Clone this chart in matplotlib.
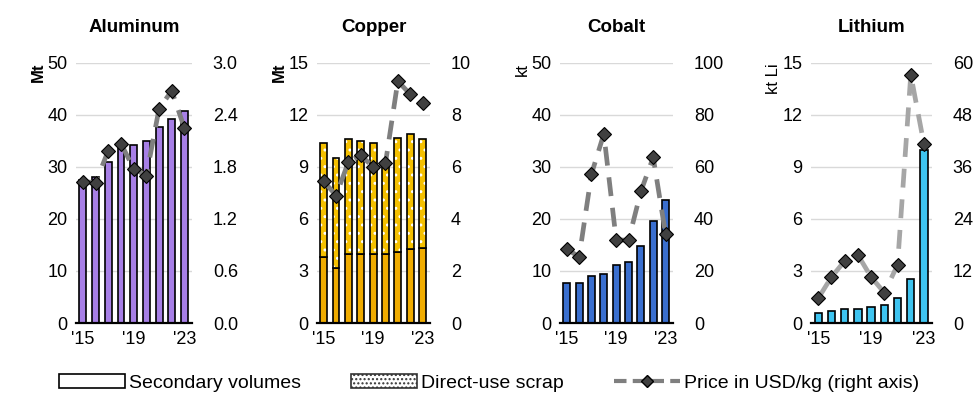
import numpy as np
import matplotlib.pyplot as plt
from matplotlib.lines import Line2D
from matplotlib.patches import Patch

plt.rcParams['font.family'] = ['Liberation Sans', 'DejaVu Sans']

years = ["'15", "", "", "", "'19", "", "", "", "'23"]

# secondary volumes (left axis)
alu_sec = [27.5, 28.0, 31.0, 34.5, 34.2, 35.0, 37.7, 39.2, 40.7]
cu_sec = [3.8, 3.2, 4.0, 4.0, 4.0, 4.0, 4.1, 4.25, 4.35]
cu_total = [10.4, 9.5, 10.6, 10.5, 10.4, 9.3, 10.7, 10.9, 10.6]
co_sec = [7.6, 7.6, 9.1, 9.5, 11.1, 11.7, 14.9, 19.6, 23.7]
li_sec = [0.57, 0.67, 0.8, 0.8, 0.9, 1.03, 1.47, 2.52, 9.98]

# prices (right axis)
alu_price = [1.63, 1.62, 1.99, 2.07, 1.78, 1.70, 2.47, 2.68, 2.25]
cu_price = [5.45, 4.9, 6.2, 6.45, 6.0, 6.15, 9.3, 8.8, 8.45]
co_price = [28.5, 25.4, 57.3, 72.7, 32.0, 31.8, 50.6, 63.7, 34.2]
li_price = [5.7, 10.6, 14.3, 15.7, 10.6, 7.0, 13.4, 57.3, 41.2]

cu_direct = [t - s for t, s in zip(cu_total, cu_sec)]

fig = plt.figure(figsize=(9.78, 4.01), dpi=100)

panels = [
    ('Aluminum', 'Mt', alu_sec, None, alu_price, '#a77fe6', (0, 50, 10), (0, 3.0, 0.6), '%.1f', '#7f7f7f', 0.0777, 0.1186),
    ('Copper', 'Mt', cu_sec, cu_direct, cu_price, '#f0ac00', (0, 15, 3), (0, 10, 2), '%d', '#7f7f7f', 0.3241, 0.1155),
    ('Cobalt', 'kt', co_sec, None, co_price, '#3a6fcf', (0, 50, 10), (0, 100, 20), '%d', '#7f7f7f', 0.5726, 0.1155),
    ('Lithium', 'kt Li', li_sec, None, li_price, '#3ec4f0', (0, 15, 3), (0, 60, 12), '%d', '#a6a6a6', 0.8292, 0.1237),
]

x = np.arange(9)
for title, unit, sec, direct, price, col, lt, rt, rfmt, lcol, left, width in panels:
    ax = fig.add_axes([left, 0.1945, width, 0.6485])
    ax.set_xlim(-0.55, 8.6)
    ax.set_ylim(lt[0], lt[1])
    ax.set_yticks(np.arange(lt[0], lt[1] + 0.001, lt[2]))
    ax.yaxis.grid(True, color='#d9d9d9', linewidth=1)
    ax.set_axisbelow(True)
    ax.bar(x, sec, width=0.55, color=col, edgecolor='black', linewidth=1.2, zorder=2)
    if direct is not None:
        ax.bar(x, direct, bottom=sec, width=0.55, color='#f5c000', edgecolor='white',
               hatch='..', linewidth=0, zorder=2)
        ax.bar(x, direct, bottom=sec, width=0.55, fill=False, edgecolor='black',
               linewidth=1.2, zorder=2)
    for s in ['top', 'right', 'left']:
        ax.spines[s].set_visible(False)
    ax.spines['bottom'].set_linewidth(1.6)
    ax.set_xticks(x)
    ax.set_xticklabels(years, fontsize=13)
    ax.tick_params(axis='both', length=0, labelsize=13, pad=6)
    ax.set_ylabel(unit, loc='top', fontsize=12,
                  fontweight='bold' if unit == 'Mt' else 'normal', labelpad=1)
    ax.set_title(title, fontsize=13.5, fontweight='bold', pad=22)

    ax2 = ax.twinx()
    ax2.set_ylim(rt[0], rt[1])
    ax2.set_yticks(np.arange(rt[0], rt[1] + 0.001, rt[2]))
    ax2.yaxis.set_major_formatter(plt.FormatStrFormatter(rfmt))
    ax2.tick_params(axis='y', length=0, labelsize=13, pad=15)
    for s in ax2.spines.values():
        s.set_visible(False)
    ax2.plot(x, price, color=lcol, linewidth=3.4, linestyle=(0, (4, 2.5)),
             marker='D', markersize=7, markerfacecolor='#404040',
             markeredgecolor='black', markeredgewidth=0.8, zorder=3)

handles = [
    Patch(facecolor='white', edgecolor='black', linewidth=1.2),
    Patch(facecolor='white', edgecolor='#333333', hatch='....', linewidth=1.2),
    Line2D([0], [0], color='#7f7f7f', linewidth=3, linestyle=(0, (3, 1.5)),
           marker='D', markersize=6, markerfacecolor='#404040', markeredgecolor='black'),
]
labels = ['Secondary volumes', 'Direct-use scrap', 'Price in USD/kg (right axis)']
fig.legend(handles, labels, loc='center', bbox_to_anchor=(0.5, 0.045), ncol=3,
           frameon=False, handlelength=3.4, columnspacing=2.6, handletextpad=0.2,
           prop={'family': ['Liberation Sans Narrow', 'Liberation Sans', 'DejaVu Sans'], 'size': 14})

fig.savefig('out.png', dpi=100)
